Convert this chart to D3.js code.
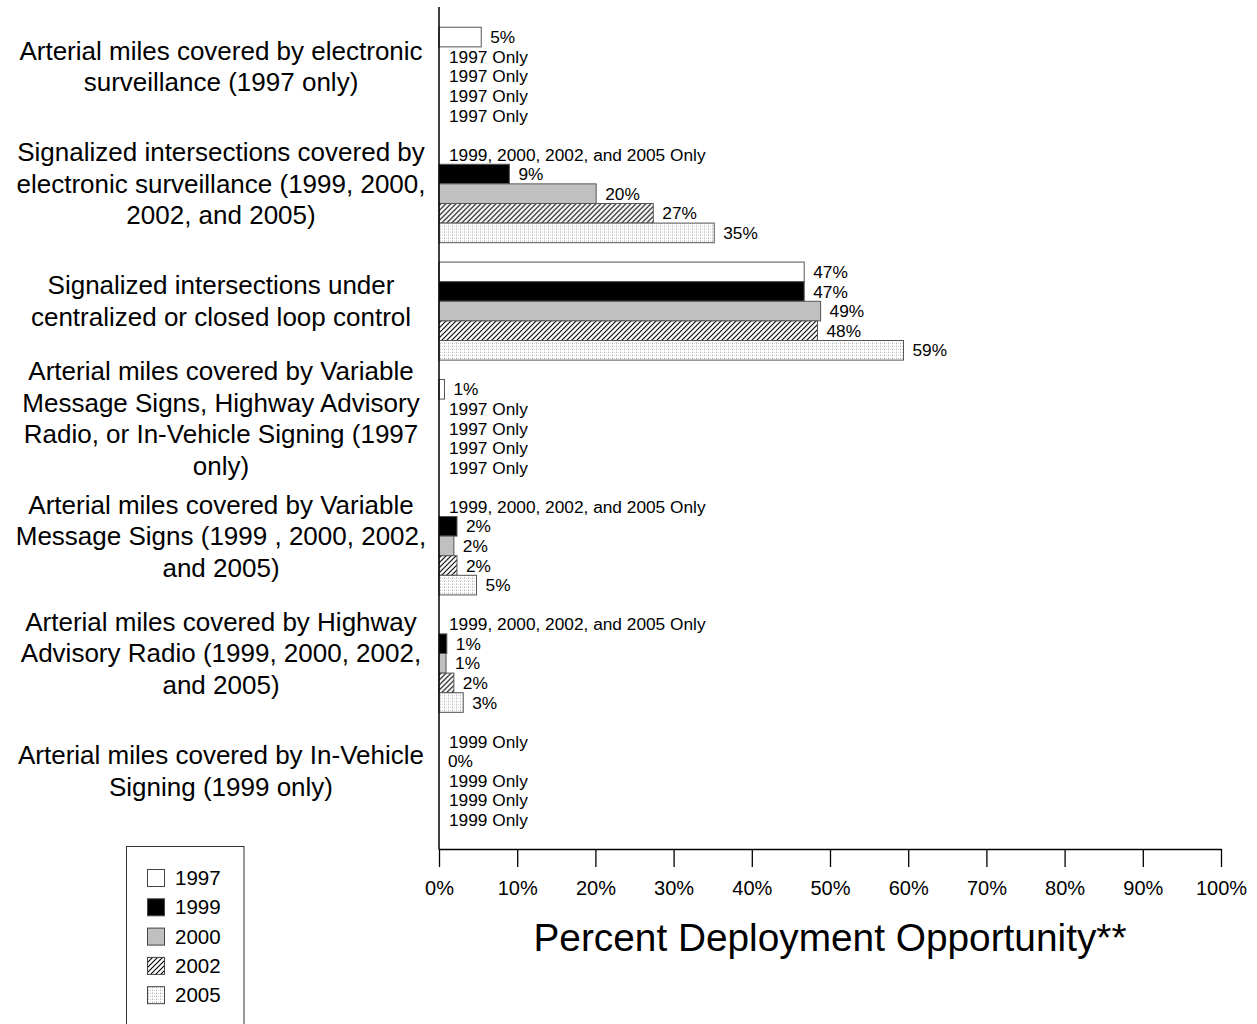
<!DOCTYPE html>
<html><head><meta charset="utf-8">
<script src="https://cdn.jsdelivr.net/npm/d3@7"></script>
<style>body{margin:0;background:#fff}svg{display:block;font-family:"Liberation Sans",Arial,sans-serif}</style>
</head><body>
<svg id="chart" width="1257" height="1024"></svg>
<script>
const categories = [
  ["Arterial miles covered by electronic", "surveillance (1997 only)"],
  ["Signalized intersections covered by", "electronic surveillance (1999, 2000,", "2002, and 2005)"],
  ["Signalized intersections under", "centralized or closed loop control"],
  ["Arterial miles covered by Variable", "Message Signs, Highway Advisory", "Radio, or In-Vehicle Signing (1997", "only)"],
  ["Arterial miles covered by Variable", "Message Signs (1999 , 2000, 2002,", "and 2005)"],
  ["Arterial miles covered by Highway", "Advisory Radio (1999, 2000, 2002,", "and 2005)"],
  ["Arterial miles covered by In-Vehicle", "Signing (1999 only)"]
];
const notes = ["1997 Only", "1999, 2000, 2002, and 2005 Only", "", "1997 Only",
  "1999, 2000, 2002, and 2005 Only", "1999, 2000, 2002, and 2005 Only", "1999 Only"];
const years = ["1997", "1999", "2000", "2002", "2005"];
const v1997 = [5.4, null, 46.7, 0.7, null, null, null];
const v1999 = [null, 9.0, 46.7, null, 2.3, 1.0, 0];
const v2000 = [null, 20.1, 48.8, null, 1.9, 0.9, null];
const v2002 = [null, 27.4, 48.4, null, 2.3, 1.9, null];
const v2005 = [null, 35.2, 59.4, null, 4.8, 3.1, null];
const series = [v1997, v1999, v2000, v2002, v2005];
const xTicks = [0,10,20,30,40,50,60,70,80,90,100];
const xTitle = "Percent Deployment Opportunity**";

const svg = d3.select("#chart");
const defs = svg.append("defs");
const hatch = defs.append("pattern").attr("id","hatch").attr("patternUnits","userSpaceOnUse")
  .attr("width",5).attr("height",5);
hatch.append("rect").attr("width",5).attr("height",5).attr("fill","#fff");
hatch.append("path").attr("d","M-1,1 l2,-2 M0,5 l5,-5 M4,6 l2,-2").attr("stroke","#000").attr("stroke-width",1.1);
const dots = defs.append("pattern").attr("id","dots").attr("patternUnits","userSpaceOnUse")
  .attr("width",4).attr("height",3);
dots.append("rect").attr("width",4).attr("height",3).attr("fill","#fff");
dots.append("rect").attr("x",0).attr("y",0).attr("width",1).attr("height",1).attr("fill","#b8b8b8");
dots.append("rect").attr("x",2).attr("y",0).attr("width",1).attr("height",1).attr("fill","#d0d0d0");
dots.append("rect").attr("x",0).attr("y",2).attr("width",1).attr("height",1).attr("fill","#d8d8d8");
const fills = ["#fff", "#000", "#c0c0c0", "url(#hatch)", "url(#dots)"];

const x = d3.scaleLinear().domain([0,100]).range([439,1221]);
const y = d3.scaleBand().domain(d3.range(categories.length)).range([8,849])
  .paddingInner(0.165).paddingOuter(0.164);
const ySub = d3.scaleBand().domain(d3.range(years.length)).range([0, y.bandwidth()]);

// bars and value labels
categories.forEach((c, i) => {
  const g = svg.append("g").attr("transform", `translate(0,${y(i)})`);
  series.forEach((s, j) => {
    const v = s[i];
    const yy = ySub(j), h = ySub.bandwidth();
    if (v !== null && v > 0) {
      g.append("rect").attr("x", x(0)).attr("y", yy).attr("width", x(v) - x(0)).attr("height", h)
        .attr("fill", fills[j]).attr("stroke", "#555").attr("stroke-width", 1);
    }
    let label = "";
    let lx = x(0) + 10;
    if (v !== null) { label = d3.format(".0f")(v) + "%"; if (v > 0) lx = x(v) + 9; else lx = x(0) + 9; }
    else label = notes[i];
    if (label) g.append("text").attr("x", lx).attr("y", yy + h/2).attr("dy","0.35em")
      .attr("font-size", 17.3).attr("fill","#000").text(label);
  });
  // category label
  const cy = y(i) + y.bandwidth()/2 - 10;
  const lh = 31.5;
  const t = svg.append("text").attr("text-anchor","middle").attr("font-size", 26).attr("fill","#000");
  c.forEach((line, k) => {
    t.append("tspan").attr("x", 221).attr("y", cy + (k - (c.length-1)/2) * lh).attr("dy","0.35em").text(line);
  });
});

// axes
const xAxis = d3.axisBottom(x).tickValues(xTicks).tickFormat(d => d + "%").tickSize(18).tickSizeOuter(0);
const ax = svg.append("g").attr("transform","translate(0,849)").call(xAxis);
ax.select(".domain").attr("stroke","#000").attr("stroke-width",1.5);
ax.selectAll(".tick line").attr("stroke","#000").attr("stroke-width",1.3);
ax.selectAll(".tick text").attr("font-size",20).attr("font-family","Liberation Sans, Arial, sans-serif")
  .attr("fill","#000").attr("y",32).attr("dy","0.71em");
svg.append("line").attr("x1",x(0)).attr("x2",x(0)).attr("y1",7).attr("y2",849.5)
  .attr("stroke","#000").attr("stroke-width",1.5);

svg.append("text").attr("x",830).attr("y",951).attr("text-anchor","middle").attr("font-size",38.8)
  .attr("fill","#000").text(xTitle);

// legend
const lg = svg.append("g");
lg.append("rect").attr("x",126.5).attr("y",846.5).attr("width",117.5).attr("height",200)
  .attr("fill","#fff").attr("stroke","#333").attr("stroke-width",1);
years.forEach((yr, j) => {
  const cy = 878 + j * 29.3;
  lg.append("rect").attr("x",147.5).attr("y",cy-8.5).attr("width",17).attr("height",17)
    .attr("fill",fills[j]).attr("stroke","#444").attr("stroke-width",1);
  lg.append("text").attr("x",175).attr("y",cy).attr("dy","0.35em").attr("font-size",20.5).attr("fill","#000").text(yr);
});
</script>
</body></html>
